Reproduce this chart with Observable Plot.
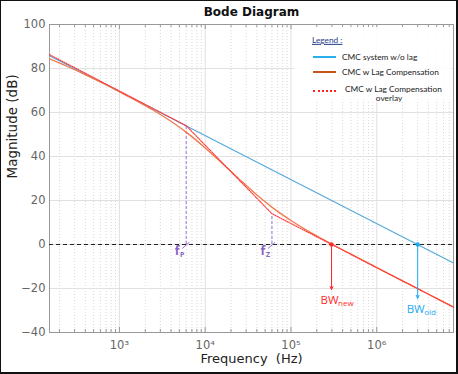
<!DOCTYPE html>
<html>
<head>
<meta charset="utf-8">
<script src="https://cdn.jsdelivr.net/npm/d3@7"></script>
<script src="https://cdn.jsdelivr.net/npm/@observablehq/plot@0.6"></script>
<style>
  html, body { margin: 0; padding: 0; background: #fff; }
  #wrap { position: relative; width: 458px; height: 374px; overflow: hidden; background: #fff; }
  #border { position: absolute; left: 0; top: 0; width: 458px; height: 374px; box-sizing: border-box;
            border: 1px solid #111; border-bottom-width: 2px; border-right-width: 2px; pointer-events: none; }
  #legend { position: absolute; left: 294px; top: 27px; width: 158px; height: 75px;
            background: rgba(255,255,255,0.85); font-family: Lato, "Open Sans", sans-serif; font-size: 8.3px; color: #222; }
  #legend .t { position: absolute; white-space: nowrap; line-height: 1; transform: translateY(-50%); }
  #legend .ln { position: absolute; height: 0; width: 23px; transform: translateY(-50%); }
</style>
</head>
<body>
<div id="wrap">
  <div id="chart"></div>
  <div id="legend"></div>
  <div id="border"></div>
</div>
<script>
// ---- data ----
const blueFreq = [153, 7850000];
const blueMag  = [85.8, -8.4];

const lagFreq = [153, 251, 398, 631, 1000, 1585, 2512, 3981, 6310, 10000, 15850, 25120, 39810, 63100,
                 100000, 158500, 251200, 398100, 631000, 1000000, 1585000, 2512000, 3981000, 6310000, 7850000];
const lagMag  = [84.4, 80.8, 77.2, 73.4, 69.4, 65.3, 60.9, 56.0, 50.4, 43.9, 36.8, 29.6, 22.6, 16.3,
                 10.9, 6.1, 1.8, -2.4, -6.4, -10.5, -14.5, -18.5, -22.5, -26.5, -28.4];

const overlayFreq = [153, 6000, 60000, 7850000];
const overlayMag  = [86.3, 54, 14, -28.5];

const cornerFreq  = [6000, 60000];
const cornerMag   = [54, 14];
const cornerSub   = ["P", "Z"];

const bwFreq  = [297000, 3000000];
const bwTip   = [-20.5, -24.5];
const bwSub   = ["new", "old"];
const bwColor = ["#ff2a2a", "#1eaaf0"];

const xMajor = [1e3, 1e4, 1e5, 1e6];
const yTicks = [-40, -20, 0, 20, 40, 60, 80, 100];
const xDomain = [153, 7850000];
const yDomain = [-40, 100];

const legendLabels = ["CMC system w/o lag", "CMC w Lag Compensation", "CMC w Lag Compensation", "overlay"];

// ---- derived tables ----
const xMinor = [];
for (let e = 2; e <= 6; e++) for (let m = 2; m <= 9; m++) {
  const v = m * Math.pow(10, e);
  if (v >= xDomain[0] && v <= xDomain[1]) xMinor.push(v);
}
const blue = blueFreq.map((f, i) => ({f, m: blueMag[i]}));
const lag = lagFreq.map((f, i) => ({f, m: lagMag[i]}));
const overlay = overlayFreq.map((f, i) => ({f, m: overlayMag[i]}));
const corners = cornerFreq.map((f, i) => ({f, m: cornerMag[i], sub: cornerSub[i]}));
const bws = bwFreq.map((f, i) => ({f, tip: bwTip[i], sub: bwSub[i], color: bwColor[i]}));

const sup = {"0":"⁰","1":"¹","2":"²","3":"³","4":"⁴","5":"⁵","6":"⁶","7":"⁷","8":"⁸","9":"⁹"};
const fmtPow = d => "10" + String(Math.round(Math.log10(d))).split("").map(c => sup[c]).join("");

const purple = "#9a70d6";
const yLo = yDomain[0], yHi = yDomain[1];

const chart = Plot.plot({
  width: 458, height: 374,
  marginLeft: 49, marginRight: 5, marginTop: 24, marginBottom: 42,
  x: {type: "log", domain: xDomain},
  y: {domain: yDomain},
  style: {fontFamily: "DejaVu Sans", fontSize: "11.5px", color: "#666", background: "transparent"},
  marks: [
    Plot.gridX(xMinor, {stroke: "#c8c8c8", strokeOpacity: 0.7, strokeDasharray: "1,2"}),
    Plot.gridX(xMajor, {stroke: "#e0e0e0", strokeOpacity: 1}),
    Plot.gridY(yTicks, {stroke: "#e0e0e0", strokeOpacity: 1}),
    Plot.frame({stroke: "#999"}),
    // inward ticks on the bottom and top edges
    Plot.ruleX(xMinor, {x: d => d, y1: yLo, y2: yLo, insetTop: -3, stroke: "#999"}),
    Plot.ruleX(xMajor, {x: d => d, y1: yLo, y2: yLo, insetTop: -5, stroke: "#999"}),
    Plot.ruleX(xMinor, {x: d => d, y1: yHi, y2: yHi, insetBottom: -3, stroke: "#999"}),
    Plot.ruleX(xMajor, {x: d => d, y1: yHi, y2: yHi, insetBottom: -5, stroke: "#999"}),
    Plot.axisX(xMajor, {anchor: "bottom", tickSize: 0, tickPadding: 8, tickFormat: fmtPow, fill: "#666", label: null}),
    Plot.axisY(yTicks, {anchor: "left", tickSize: 0, tickPadding: 4, fill: "#666", label: null}),
    Plot.ruleY([0], {stroke: "#222", strokeWidth: 1.2, strokeDasharray: "4,3"}),
    Plot.ruleX(corners, {x: "f", y1: 0, y2: "m", stroke: purple, strokeDasharray: "3,2"}),
    Plot.link(corners, {x1: d => d.f * 0.9, y1: -1.8, x2: d => d.f * 1.09, y2: 1.0, stroke: purple}),
    Plot.text(corners, {x: "f", y: 0, text: () => "f", dx: -9, dy: 7, fill: "#8a63c4", fontSize: 12, fontWeight: "bold", fontFamily: "Open Sans"}),
    Plot.text(corners, {x: "f", y: 0, text: "sub", dx: -4, dy: 10, fill: "#8a63c4", fontSize: 7, fontWeight: "bold", fontFamily: "Open Sans"}),
    Plot.line(blue, {x: "f", y: "m", stroke: "#58a9dc", strokeWidth: 1.2}),
    Plot.line(lag, {x: "f", y: "m", stroke: "#f07a4e", strokeWidth: 1.3, curve: "monotone-x"}),
    Plot.line(overlay, {x: "f", y: "m", stroke: "#ff3a3a", strokeWidth: 1.2, strokeDasharray: "1,1.3"}),
    Plot.arrow(bws, {x1: "f", y1: 0, x2: "f", y2: "tip", stroke: "color", strokeWidth: 1, headLength: 5, headAngle: 50}),
    Plot.dot(bws, {x: "f", y: 0, r: 2.2, fill: "color", stroke: null}),
    Plot.text(bws, {x: "f", y: "tip", text: () => "BW", dx: -2, dy: 11, fill: "color", fontSize: 11.5, fontFamily: "Open Sans"}),
    Plot.text(bws, {x: "f", y: "tip", text: "sub", dx: 6.5, dy: 14, textAnchor: "start", fill: "color", fontSize: 8, fontFamily: "Open Sans"}),
    Plot.text(["Bode Diagram"], {frameAnchor: "top", dy: -17, fontWeight: "bold", fontSize: 12, fill: "#111", fontFamily: "DejaVu Sans"}),
    Plot.text(["Frequency\u00a0 (Hz)"], {frameAnchor: "bottom", dy: 30.5, fontSize: 13, fill: "#222", fontFamily: "DejaVu Sans"}),
    Plot.text(["Magnitude (dB)"], {frameAnchor: "left", dx: -37, rotate: -90, fontSize: 13.5, fill: "#222", fontFamily: "DejaVu Sans"})
  ]
});
document.getElementById("chart").appendChild(chart);

// ---- legend (inside the plot, top right) ----
const lg = document.getElementById("legend");
const ox = 294, oy = 27;
function addText(txt, x, y, extra) {
  const s = document.createElement("div");
  s.className = "t"; s.textContent = txt;
  s.style.left = (x - ox) + "px"; s.style.top = (y - oy) + "px";
  if (extra) Object.assign(s.style, extra);
  lg.appendChild(s);
}
function addLine(y, style) {
  const l = document.createElement("div");
  l.className = "ln";
  l.style.left = (313 - ox) + "px"; l.style.top = (y - oy) + "px";
  l.style.borderTop = style;
  lg.appendChild(l);
}
addText("Legend :", 312, 40, {color: "#1f3c88", textDecoration: "underline"});
addLine(57, "2px solid #2db0ea");
addText(legendLabels[0], 342, 57);
addLine(72, "2px solid #c4561a");
addText(legendLabels[1], 342, 72);
addLine(91, "2px dotted #ff2020");
addText(legendLabels[2], 345, 88.5);
addText(legendLabels[3], 389, 97.5, {transform: "translate(-50%,-50%)"});
</script>
</body>
</html>
